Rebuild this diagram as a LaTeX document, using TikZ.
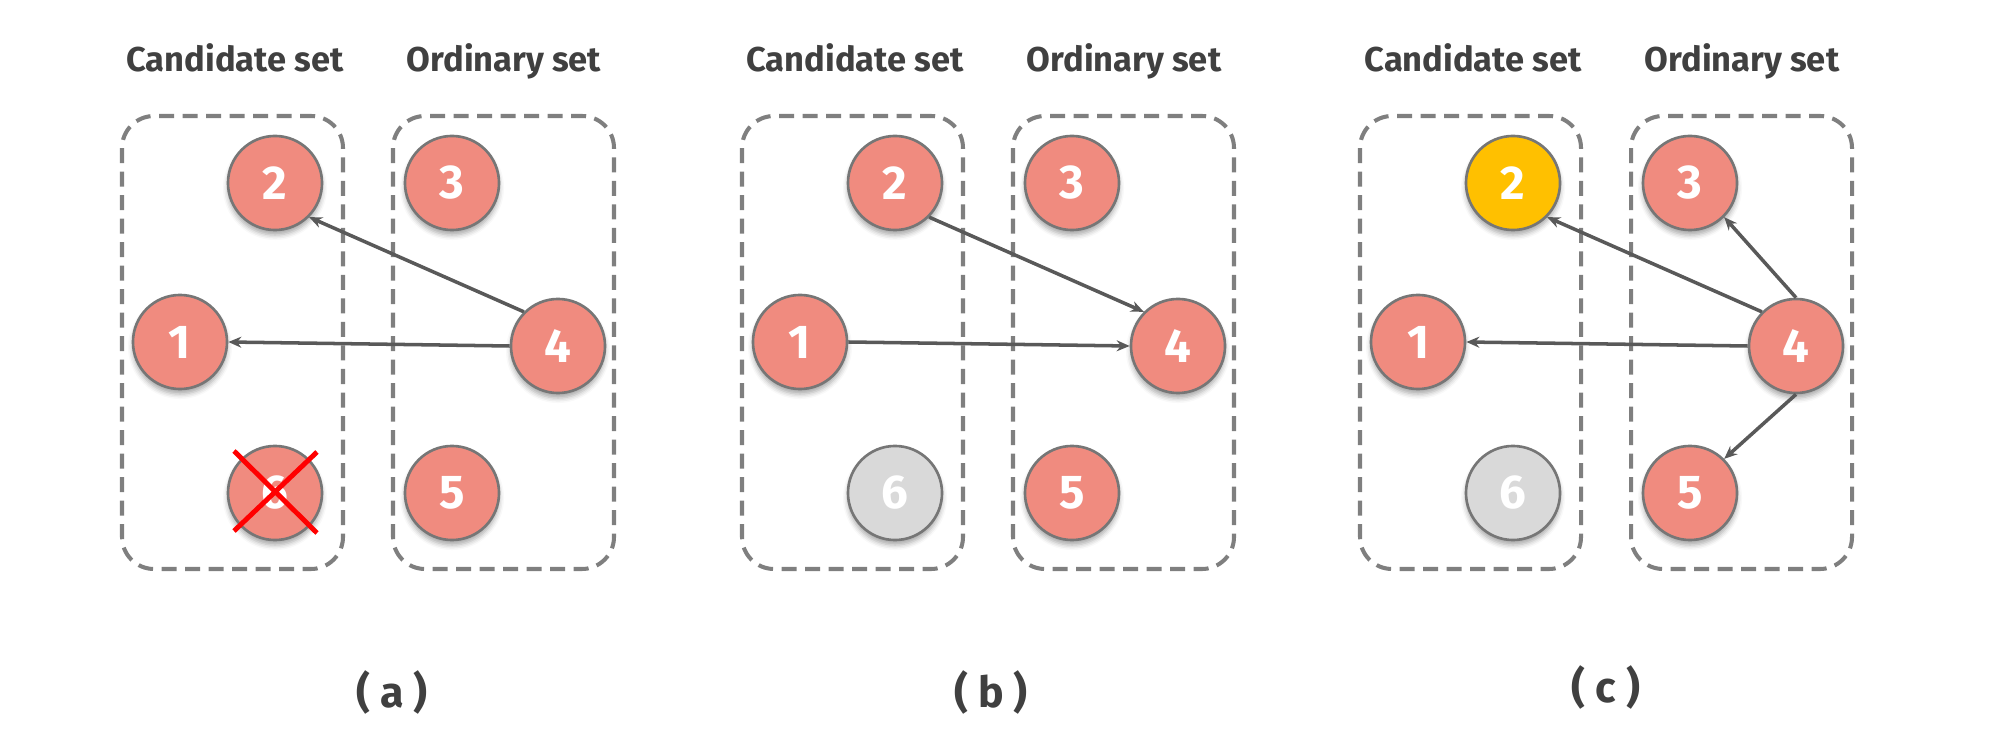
\documentclass[tikz,border=0pt]{standalone}
\usepackage{fontspec}
\setmainfont{Fira Sans}
\usetikzlibrary{arrows.meta,positioning,shadows.blur,calc}
\definecolor{setGray}{RGB}{127,127,127}
\definecolor{ringGray}{RGB}{118,118,118}
\definecolor{nodeRed}{RGB}{240,139,127}
\definecolor{nodeGold}{RGB}{255,192,0}
\definecolor{nodeGray}{RGB}{217,217,217}
\definecolor{edgeGray}{RGB}{89,89,89}
\definecolor{textGray}{RGB}{64,64,64}

\begin{document}
\begin{tikzpicture}[x=0.01cm, y=-0.01cm,
    setbox/.style={draw=setGray, line width=1.15pt, dash pattern=on 0.15cm off 0.085cm,
                   rounded corners=0.32cm},
    settitle/.style={font=\fontsize{9.8}{12}\selectfont\bfseries, text=textGray, anchor=base},
    sublabel/.style={font=\fontsize{12.2}{15}\selectfont\bfseries, text=textGray},
    vertex/.style={circle, minimum size=0.94cm, inner sep=0pt, fill=nodeRed, draw=ringGray,
                   line width=0.75pt, text=white, font=\fontsize{13.5}{15}\selectfont\bfseries,
                   blur shadow={shadow xshift=0pt, shadow yshift=-0.05cm,
                                shadow blur radius=0.05cm, shadow opacity=35}},
    link/.style={draw=edgeGray, line width=1pt, -{Stealth[length=0.13cm, width=0.11cm]}}
  ]
  \useasboundingbox (0,0) rectangle (2000,752);

  % (a)
  \draw[setbox] (122,116) rectangle (343,569);
  \draw[setbox] (393,116) rectangle (614,569);
  \node[settitle] (ta1) at (235,72) {Candidate set};
  \node[settitle] (ta2) at (504,72) {Ordinary set};
  \node[vertex] (a1) at (180,342) {1};
  \node[vertex] (a2) at (275,183) {2};
  \node[vertex] (a3) at (452,183) {3};
  \node[vertex] (a4) at (558,346) {4};
  \node[vertex] (a5) at (452,493) {5};
  \node[vertex] (a6) at (275,493) {6};
  \draw[red, line width=1.4pt] ($(a6)+(-41,-42)$) -- ($(a6)+(42,40)$);
  \draw[red, line width=1.4pt] ($(a6)+(-41,38)$) -- ($(a6)+(42,-41)$);
  \draw[link] (a4.north west) -- (a2.south east);
  \draw[link] (a4.west) -- (a1.east);
  \node[sublabel] (la) at (392,692) {( a )};

  % (b)
  \draw[setbox] (742,116) rectangle (963,569);
  \draw[setbox] (1013,116) rectangle (1234,569);
  \node[settitle] (tb1) at (855,72) {Candidate set};
  \node[settitle] (tb2) at (1124,72) {Ordinary set};
  \node[vertex] (b1) at (800,342) {1};
  \node[vertex] (b2) at (895,183) {2};
  \node[vertex] (b3) at (1072,183) {3};
  \node[vertex] (b4) at (1178,346) {4};
  \node[vertex] (b5) at (1072,493) {5};
  \node[vertex, fill=nodeGray] (b6) at (895,493) {6};
  \draw[link] (b2.south east) -- (b4.north west);
  \draw[link] (b1.east) -- (b4.west);
  \node[sublabel] (lb) at (991,692) {( b )};

  % (c)
  \draw[setbox] (1360,116) rectangle (1581,569);
  \draw[setbox] (1631,116) rectangle (1852,569);
  \node[settitle] (tc1) at (1473,72) {Candidate set};
  \node[settitle] (tc2) at (1742,72) {Ordinary set};
  \node[vertex] (c1) at (1418,342) {1};
  \node[vertex, fill=nodeGold] (c2) at (1513,183) {2};
  \node[vertex] (c3) at (1690,183) {3};
  \node[vertex] (c4) at (1796,346) {4};
  \node[vertex] (c5) at (1690,493) {5};
  \node[vertex, fill=nodeGray] (c6) at (1513,493) {6};
  \draw[link] (c4.north west) -- (c2.south east);
  \draw[link] (c4.west) -- (c1.east);
  \draw[link] (c4.north) -- (c3.south east);
  \draw[link] (c4.south) -- (c5.north east);
  \node[sublabel] (lc) at (1606,687) {( c )};
\end{tikzpicture}
\end{document}
